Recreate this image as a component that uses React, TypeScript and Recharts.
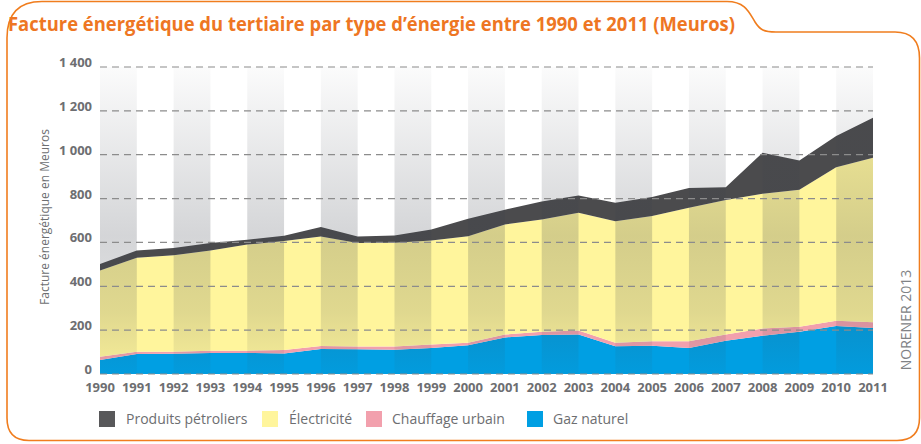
import React from "react";
import { AreaChart, Area, XAxis, YAxis, ReferenceArea, ReferenceLine } from "recharts";

const years = [1990, 1991, 1992, 1993, 1994, 1995, 1996, 1997, 1998, 1999, 2000, 2001, 2002, 2003, 2004, 2005, 2006, 2007, 2008, 2009, 2010, 2011];
const gazNaturel = [64, 91, 92, 96, 96, 94, 114, 113, 111, 119, 131, 167, 178, 180, 126, 129, 119, 152, 175, 193, 219, 210];
const chauffageUrbain = [15, 11, 10, 10, 10, 16, 14, 12, 14, 15, 12, 13, 15, 18, 16, 20, 30, 28, 33, 23, 24, 26];
const electricite = [393, 428, 440, 457, 484, 496, 499, 472, 473, 475, 485, 502, 512, 537, 555, 571, 609, 614, 614, 624, 700, 750];
const produitsPetroliers = [30, 33, 33, 34, 22, 24, 43, 30, 34, 50, 80, 67, 82, 79, 84, 87, 90, 58, 187, 134, 142, 183];
const yTicks = [0, 200, 400, 600, 800, 1000, 1200, 1400];
const bandStarts = [1990, 1992, 1994, 1996, 1998, 2000, 2002, 2004, 2006, 2008, 2010];

const seriesMeta = [
  { key: "petro", name: "Produits pétroliers", color: "#4b4b4d", legend: "#58585a", sq: 99, tx: 126 },
  { key: "elec", name: "Électricité", color: "#fff59c", legend: "#fff59c", sq: 262, tx: 289 },
  { key: "chauf", name: "Chauffage urbain", color: "#f2a0ad", legend: "#f2a0ad", sq: 366, tx: 392 },
  { key: "gaz", name: "Gaz naturel", color: "#009fe3", legend: "#009fe3", sq: 527, tx: 553 },
];

const data = years.map((y, i) => ({
  year: y,
  gaz: gazNaturel[i],
  chauf: chauffageUrbain[i],
  elec: electricite[i],
  petro: produitsPetroliers[i],
}));

const fmt = (v: number) => (v >= 1000 ? `${Math.floor(v / 1000)} ${String(v % 1000).padStart(3, "0")}` : String(v));

const FONT = "'Open Sans', 'DejaVu Sans', sans-serif";
const GRAY = "#6d6e71";

const YTick = (props: any) => {
  const { x, y, payload } = props;
  return (
    <text x={x} y={y} textAnchor="end" fill={GRAY} fontSize={13} fontWeight={700} fontFamily={FONT}>
      {fmt(payload.value)}
    </text>
  );
};

const XTick = (props: any) => {
  const { x, y, payload } = props;
  return (
    <text x={x} y={y + 18} textAnchor="middle" fill={GRAY} fontSize={13} fontWeight={700} fontFamily={FONT}>
      {payload.value}
    </text>
  );
};

export default function App() {
  return (
    <div style={{ position: "absolute", left: 0, top: 0, width: 921, height: 444, background: "#fff" }}>
      <AreaChart
        width={921}
        height={444}
        data={data}
        margin={{ top: 67, right: 48, bottom: 40, left: 30 }}
      >
        <defs>
          <linearGradient id="bandGrad" x1="0" y1="0" x2="0" y2="1">
            <stop offset="0" stopColor="#3c414b" stopOpacity={0.02} />
            <stop offset="0.55" stopColor="#3c414b" stopOpacity={0.22} />
            <stop offset="0.8" stopColor="#3c414b" stopOpacity={0.16} />
            <stop offset="1" stopColor="#3c414b" stopOpacity={0.04} />
          </linearGradient>
        </defs>
        <XAxis
          dataKey="year"
          type="number"
          domain={[1990, 2011]}
          ticks={years}
          interval={0}
          tickLine={false}
          axisLine={false}
          tickSize={0}
          tickMargin={0}
          height={30}
          tick={<XTick />}
        />
        <YAxis
          type="number"
          domain={[0, 1400]}
          ticks={yTicks}
          interval={0}
          tickLine={false}
          axisLine={false}
          tickSize={0}
          tickMargin={8}
          width={70}
          tick={<YTick />}
        />
        <Area type="linear" dataKey="gaz" stackId="1" stroke="none" fill="#009fe3" fillOpacity={1} isAnimationActive={false} />
        <Area type="linear" dataKey="chauf" stackId="1" stroke="none" fill="#f2a0ad" fillOpacity={1} isAnimationActive={false} />
        <Area type="linear" dataKey="elec" stackId="1" stroke="none" fill="#fff59c" fillOpacity={1} isAnimationActive={false} />
        <Area type="linear" dataKey="petro" stackId="1" stroke="none" fill="#4b4b4d" fillOpacity={1} isAnimationActive={false} />
        {bandStarts.map((b) => (
          <ReferenceArea
            key={b}
            x1={b}
            x2={b + 1}
            y1={0}
            y2={1400}
            fill="url(#bandGrad)"
            fillOpacity={1}
            stroke="none"
            ifOverflow="visible"
            zIndex={150}
          />
        ))}
        {yTicks.map((t) => (
          <ReferenceLine
            key={t}
            y={t}
            stroke="#8c8c8c"
            strokeWidth={1.2}
            strokeDasharray="7 5"
            ifOverflow="visible"
            zIndex={160}
          />
        ))}
      </AreaChart>
      <svg width={921} height={444} style={{ position: "absolute", left: 0, top: 0, pointerEvents: "none" }}>
        <path
          d="M 7 38 Q 7 1.5 42 1.5 L 727 1.5 C 745 1.5 749 12 755 22 C 760 30 764 32 776 32 L 895 32 Q 919.5 32 919.5 58 L 919.5 418 Q 919.5 440.5 897 440.5 L 29 440.5 Q 7 440.5 7 418 Z"
          fill="none"
          stroke="#f07d1e"
          strokeWidth={1.6}
        />
        <text
          x={8}
          y={31}
          fill="#ee7623"
          fontSize={19}
          fontWeight={700}
          fontFamily={FONT}
          textLength={727}
          lengthAdjust="spacingAndGlyphs"
        >
          Facture énergétique du tertiaire par type d’énergie entre 1990 et 2011 (Meuros)
        </text>
        <text
          x={0}
          y={0}
          transform="translate(49 217) rotate(-90)"
          textAnchor="middle"
          fill={GRAY}
          fontSize={12}
          fontFamily={FONT}
        >
          Facture énergétique en Meuros
        </text>
        <text
          x={0}
          y={0}
          transform="translate(911 320) rotate(-90)"
          textAnchor="middle"
          fill="#808285"
          fontSize={14}
          fontFamily={FONT}
        >
          NORENER 2013
        </text>
        {seriesMeta.map((s) => (
          <g key={s.key}>
            <rect x={s.sq} y={411} width={16} height={16} fill={s.legend} />
            <text x={s.tx} y={424} fill={GRAY} fontSize={14} fontFamily={FONT}>
              {s.name}
            </text>
          </g>
        ))}
      </svg>
    </div>
  );
}
